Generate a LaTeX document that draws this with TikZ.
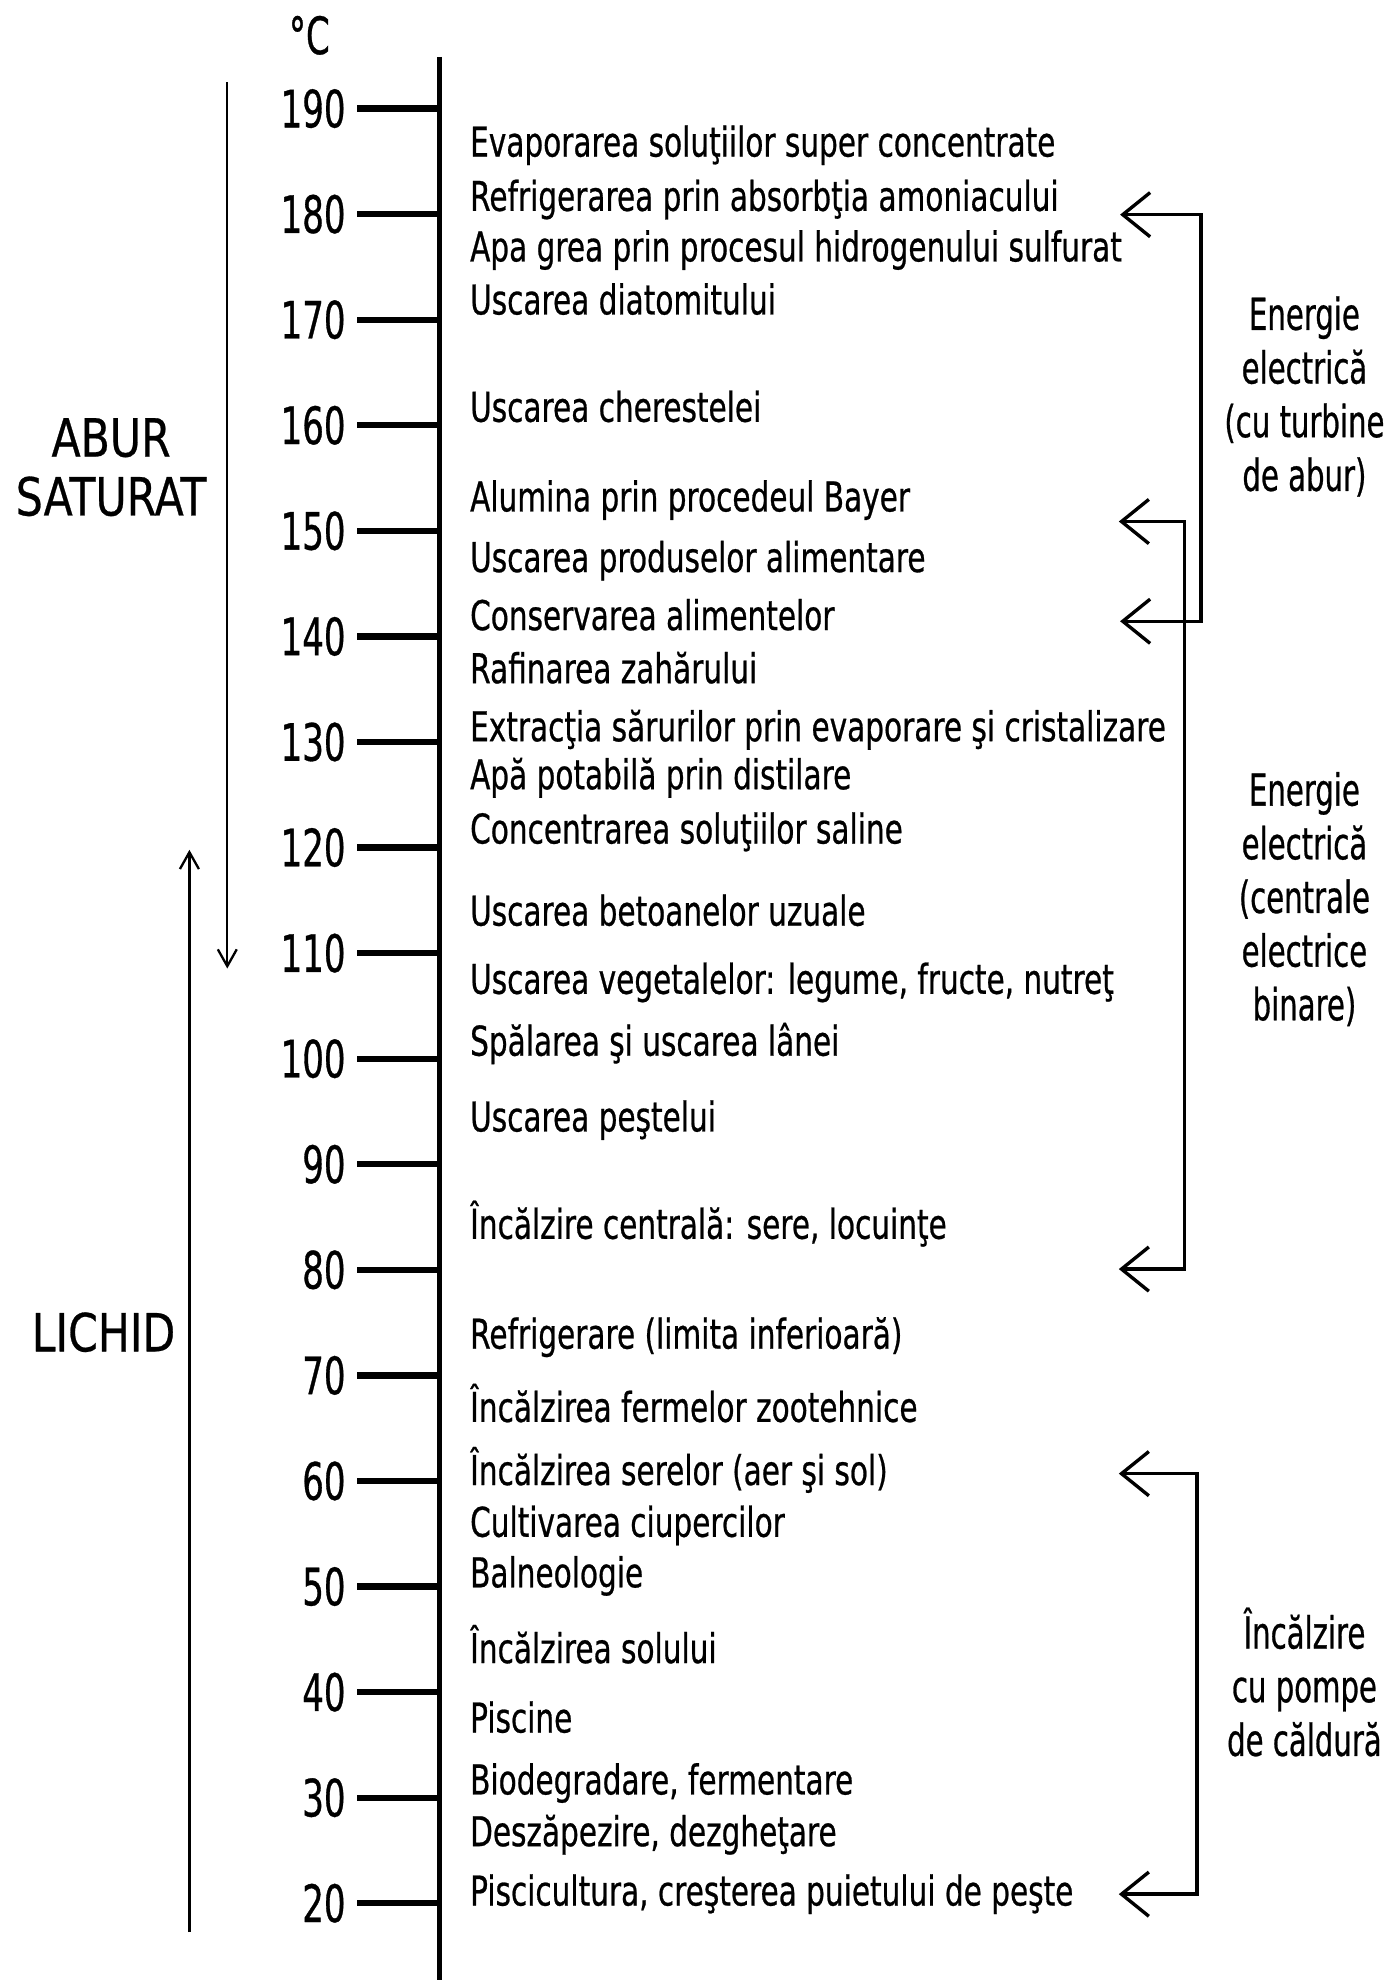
\documentclass[tikz,border=0pt]{standalone}
\usepackage{fontspec}
\usetikzlibrary{arrows.meta}
\newfontfamily\labf[FakeStretch=0.72,FakeBold=0.6]{DejaVu Sans}
\newfontfamily\numf[FakeStretch=0.66,FakeBold=0.6]{DejaVu Sans}
\newfontfamily\bigf[FakeStretch=0.81,FakeBold=0.5]{DejaVu Sans}
\begin{document}
\begin{tikzpicture}[x=0.6pt,y=-0.6pt,
  axisline/.style={line width=2.6pt},
  tickline/.style={line width=3pt},
  brk/.style={line width=1.6pt,{Straight Barb[length=13pt,width=21pt,line width=1.6pt]}-{Straight Barb[length=13pt,width=21pt,line width=1.6pt]}},
  phase/.style={line width=1.1pt,-{Straight Barb[length=8pt,width=9pt,line width=1.1pt]}},
  num/.style={anchor=east,inner sep=0pt,font=\numf\fontsize{24.5}{26}\selectfont},
  lbl/.style={anchor=base west,inner sep=0pt,font=\labf\fontsize{19.5}{22}\selectfont},
  side/.style={align=center,inner sep=0pt,font=\numf\fontsize{21}{25.5}\selectfont},
  big/.style={align=center,inner sep=0pt,font=\bigf\fontsize{25}{28}\selectfont}]
\useasboundingbox (0,0) rectangle (1102,1568);
% axis
\coordinate (axtop) at (348,45);
\coordinate (axbot) at (348,1568);
\draw[axisline] (axtop) -- (axbot);
\node[num,anchor=center] (unit) at (245,28) {°C};
% ticks
\foreach \t in {190,180,...,20}{
  \pgfmathsetmacro{\yy}{86+(190-\t)*8.36}
  \coordinate (tl\t) at (283,\yy);
  \coordinate (tr\t) at (348,\yy);
  \draw[tickline] (tl\t) -- (tr\t);
  \node[num] (n\t) at (274,\yy) {\t};
}
% labels
\node[lbl] (l1) at (372,124) {Evaporarea soluţiilor super concentrate};
\node[lbl] (l2) at (372,167) {Refrigerarea prin absorbţia amoniacului};
\node[lbl] (l3) at (372,207) {Apa grea prin procesul hidrogenului sulfurat};
\node[lbl] (l4) at (372,249) {Uscarea diatomitului};
\node[lbl] (l5) at (372,334) {Uscarea cherestelei};
\node[lbl] (l6) at (372,405) {Alumina prin procedeul Bayer};
\node[lbl] (l7) at (372,453) {Uscarea produselor alimentare};
\node[lbl] (l8) at (372,499) {Conservarea alimentelor};
\node[lbl] (l9) at (372,541) {Rafinarea zahărului};
\node[lbl] (l10) at (372,587) {Extracţia sărurilor prin evaporare şi cristalizare};
\node[lbl] (l11) at (372,625) {Apă potabilă prin distilare};
\node[lbl] (l12) at (372,668) {Concentrarea soluţiilor saline};
\node[lbl] (l13) at (372,733) {Uscarea betoanelor uzuale};
\node[lbl] (l14) at (372,787) {Uscarea vegetalelor: legume, fructe, nutreţ};
\node[lbl] (l15) at (372,836) {Spălarea şi uscarea lânei};
\node[lbl] (l16) at (372,896) {Uscarea peştelui};
\node[lbl] (l17) at (372,981) {Încălzire centrală: sere, locuinţe};
\node[lbl] (l18) at (372,1068) {Refrigerare (limita inferioară)};
\node[lbl] (l19) at (372,1126) {Încălzirea fermelor zootehnice};
\node[lbl] (l20) at (372,1176) {Încălzirea serelor (aer şi sol)};
\node[lbl] (l21) at (372,1217) {Cultivarea ciupercilor};
\node[lbl] (l22) at (372,1257) {Balneologie};
\node[lbl] (l23) at (372,1317) {Încălzirea solului};
\node[lbl] (l24) at (372,1372) {Piscine};
\node[lbl] (l25) at (372,1421) {Biodegradare, fermentare};
\node[lbl] (l26) at (372,1462) {Deszăpezire, dezgheţare};
\node[lbl] (l27) at (372,1509) {Piscicultura, creşterea puietului de peşte};
% brackets
\coordinate (b1a) at (887,170);
\coordinate (b1t) at (951,170);
\coordinate (b1b) at (951,492);
\coordinate (b1c) at (887,492);
\draw[brk] (b1a) -- (b1t) -- (b1b) -- (b1c);
\coordinate (b2a) at (886,413);
\coordinate (b2t) at (938,413);
\coordinate (b2b) at (938,1005);
\coordinate (b2c) at (886,1005);
\draw[brk] (b2a) -- (b2t) -- (b2b) -- (b2c);
\coordinate (b3a) at (886,1167);
\coordinate (b3t) at (948,1167);
\coordinate (b3b) at (948,1500);
\coordinate (b3c) at (886,1500);
\draw[brk] (b3a) -- (b3t) -- (b3b) -- (b3c);
\node[side] (s1) at (1033,314) {Energie\\electrică\\(cu turbine\\de abur)};
\node[side] (s2) at (1033,712) {Energie\\electrică\\(centrale\\electrice\\binare)};
\node[side] (s3) at (1033,1332) {Încălzire\\cu pompe\\de căldură};
% phases
\node[big] (abur) at (88,370) {ABUR\\SATURAT};
\node[big] (lichid) at (82,1055) {LICHID};
\coordinate (d1) at (180,65);
\coordinate (d2) at (180,767);
\draw[phase] (d1) -- (d2);
\coordinate (u1) at (150,1530);
\coordinate (u2) at (150,673);
\draw[phase] (u1) -- (u2);
\end{tikzpicture}
\end{document}
